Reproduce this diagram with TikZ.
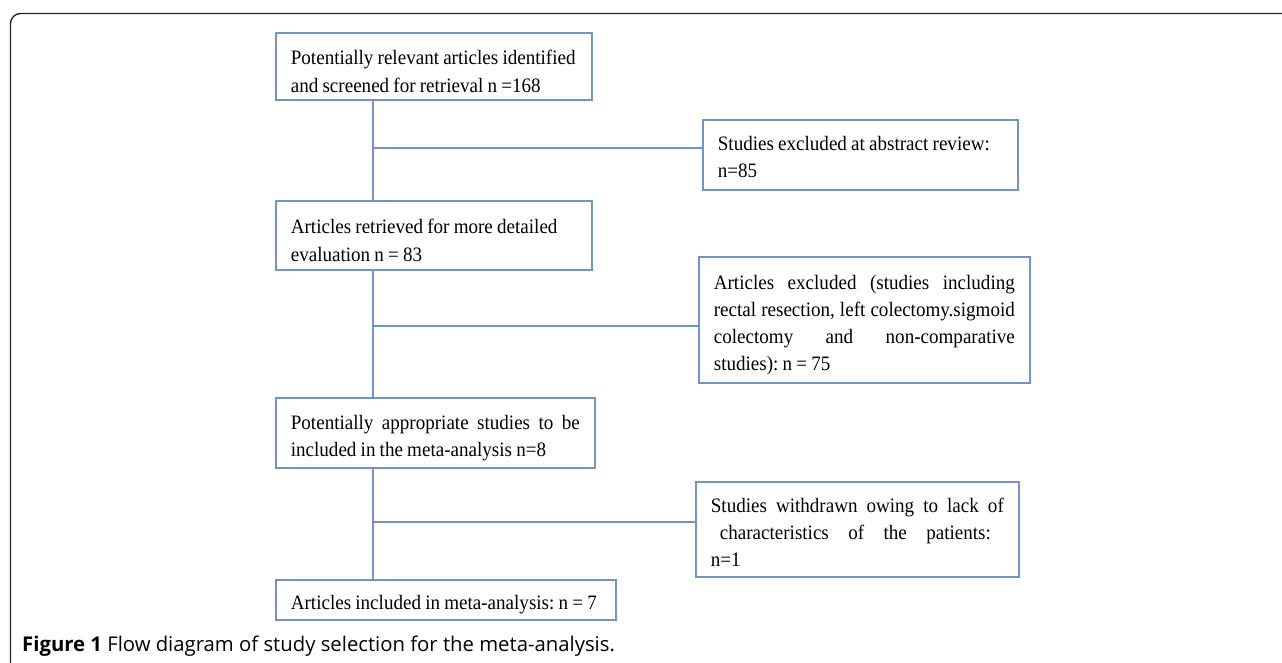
\documentclass[tikz,border=0pt]{standalone}
\usepackage{fontspec}
\setmainfont{Liberation Serif}
\newfontfamily\boxfont[FakeStretch=0.93]{Liberation Serif}
\newfontfamily\capfont{Open Sans}
\definecolor{boxblue}{RGB}{112,148,196}
\definecolor{framegray}{RGB}{40,40,40}
\newcommand{\jline}[2]{\leavevmode\hbox to #1{#2}}
\newcommand{\nudge}[1][24.5pt]{\rule{0pt}{#1}}
\newcommand{\boxsetup}{\boxfont\fontsize{20.5}{27.2}\selectfont}
\newcommand{\tightspace}{\frenchspacing\spaceskip=4.2pt plus 2pt minus 1pt\relax\xspaceskip=4.2pt plus 2pt minus 1pt\relax}
\begin{document}
\begin{tikzpicture}[x=1pt,y=-1pt,
  box/.style={draw=boxblue, line width=1.7pt, rectangle, anchor=north west,
    inner xsep=15pt, inner ysep=0pt, align=left, font=\boxsetup},
  conn/.style={draw=boxblue, line width=1.7pt}]
\useasboundingbox (0,0) rectangle (1282,662);
% outer frame
\draw[framegray, line width=1.4pt, rounded corners=10pt] (10.5,664) -- (10.5,13.5) -- (1284,13.5);
% main boxes
\node[box, text width=286pt, minimum height=67pt] (b1) at (275,32)
  {\tightspace\nudge Potentially relevant articles identified\\and screened for retrieval n =168};
\node[box, text width=286pt, minimum height=69pt] (b2) at (275,200)
  {\tightspace\nudge Articles retrieved for more detailed\\evaluation n = 83};
\node[box, text width=289pt, minimum height=70pt] (b3) at (275,397)
  {\tightspace\nudge\jline{289pt}{Potentially\hfill appropriate\hfill studies\hfill to\hfill be}\\included in the meta-analysis n=8};
\node[box, text width=310pt, minimum height=40pt] (b4) at (275,579)
  {\tightspace\nudge\mbox{Articles included in meta-analysis: n = 7}};
% exclusion boxes
\node[box, text width=285pt, minimum height=70pt] (e1) at (702,119)
  {\tightspace\nudge[18.5pt]Studies excluded at abstract review:\\n=85};
\node[box, text width=301pt, minimum height=126pt] (e2) at (698,256)
  {\tightspace\nudge\jline{301pt}{Articles\hfill excluded\hfill (studies\hfill including}\\
   \jline{301pt}{rectal\hfill resection,\hfill left\hfill colectomy.sigmoid}\\
   \jline{301pt}{colectomy\hfill and\hfill non-comparative}\\
   studies): n = 75};
\node[box, text width=293pt, minimum height=95pt] (e3) at (695,481)
  {\tightspace\nudge[20pt]\jline{293pt}{Studies\hfill withdrawn\hfill owing\hfill to\hfill lack\hfill of}\\
   \jline{293pt}{\hspace*{9pt}characteristics\hfill of\hfill the\hfill patients:\hspace*{13pt}}\\
   n=1};
% spine and branches
\coordinate (spine) at (373,0);
\coordinate (br1) at (373,148);
\coordinate (br2) at (373,326);
\coordinate (br3) at (373,522);
\draw[conn] (b1.south -| spine) -- (b2.north -| spine);
\draw[conn] (b2.south -| spine) -- (b3.north -| spine);
\draw[conn] (b3.south -| spine) -- (b4.north -| spine);
\draw[conn] (br1) -- (br1 -| e1.west);
\draw[conn] (br2) -- (br2 -| e2.west);
\draw[conn] (br3) -- (br3 -| e3.west);
% caption
\node[anchor=west, inner sep=0pt, font=\capfont\fontsize{20.3}{22}\selectfont] (cap) at (22,646)
  {\textbf{Figure 1} Flow diagram of study selection for the meta-analysis.};
\end{tikzpicture}
\end{document}
